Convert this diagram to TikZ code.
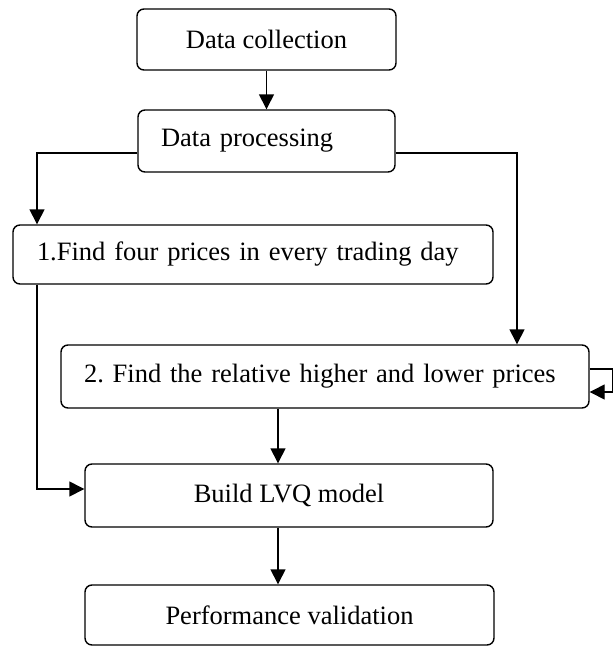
\documentclass[tikz,border=0pt]{standalone}
\usepackage{fontspec}
\setmainfont{Liberation Serif}
\frenchspacing
\usetikzlibrary{arrows.meta}
\begin{document}
\begin{tikzpicture}[x=1pt,y=-1pt,
  box/.style={draw, line width=1.4pt, rounded corners=7pt, inner sep=0pt,
    font=\fontsize{26.5}{30}\selectfont, anchor=center},
  lbox/.style={box, align=left},
  arr/.style={line width=1.4pt, -{Triangle[length=15pt,width=15pt]}}]
  \useasboundingbox (0,0) rectangle (615,646);

  % process steps
  \node[box, minimum width=259pt, minimum height=61pt] (dc) at (266.5,39.5) {Data collection};
  \node[lbox, minimum width=257pt, minimum height=62pt, text width=211pt, inner xsep=23pt] (dp) at (266.5,141) {Data processing};
  \node[lbox, minimum width=480pt, minimum height=59pt, text width=432pt, inner xsep=24pt] (f1) at (253,254.5) {1.Find four prices in every trading day};
  \node[lbox, minimum width=528pt, minimum height=63pt, text width=482pt, inner xsep=23pt] (f2) at (325,376.5) {2. Find the relative higher and lower prices};
  \node[box, minimum width=408pt, minimum height=63pt] (lvq) at (289,495.5) {Build LVQ model};
  \node[box, minimum width=409pt, minimum height=60pt] (pv) at (289.5,615) {Performance validation};

  % routing guides
  \coordinate (split) at (0,153);
  \coordinate (lcol) at (37,0);
  \coordinate (rcol) at (517,0);
  \coordinate (mcol) at (278,0);
  \coordinate (feed) at (0,489);

  % connectors
  \draw[arr] (dc) -- (dp);
  \draw[arr] (dp.west |- split) -| (f1.north -| lcol);
  \draw[arr] (dp.east |- split) -| (f2.north -| rcol);
  \draw[arr] (f1.south -| lcol) |- (lvq.west |- feed);
  \draw[arr] (f2.south -| mcol) -- (lvq.north -| mcol);
  \draw[arr] (lvq.south -| mcol) -- (pv.north -| mcol);
  \draw[arr] (f2.east |- 0,369) -- ++(23,0) |- (f2.east |- 0,392);
\end{tikzpicture}
\end{document}
